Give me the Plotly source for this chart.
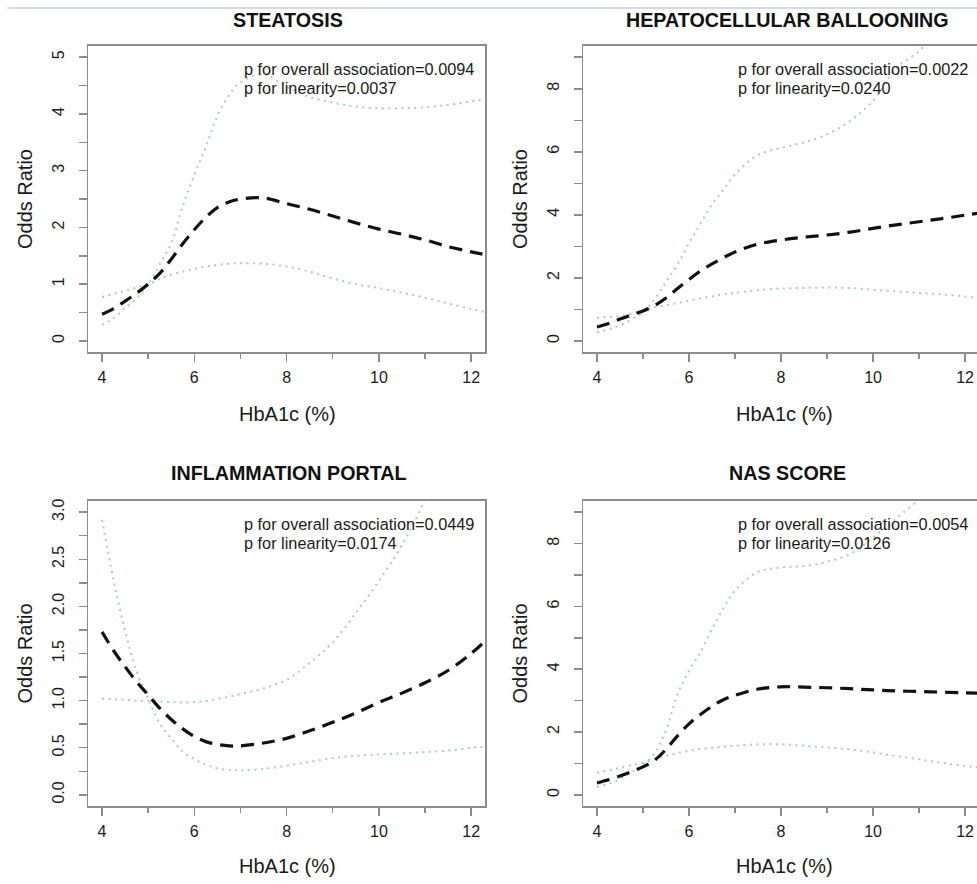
import plotly.graph_objects as go

# ---------------- data ----------------
hba1c = [4.0, 4.25, 4.5, 4.75, 5.0, 5.25, 5.5, 5.75, 6.0, 6.25, 6.5, 6.75,
         7.0, 7.5, 8.0, 8.5, 9.0, 9.5, 10.0, 10.5, 11.0, 11.5, 12.0, 12.3]

steatosis_or = [0.47, 0.57, 0.70, 0.84, 1.00, 1.19, 1.44, 1.71, 1.96, 2.18, 2.35, 2.45,
                2.50, 2.52, 2.42, 2.32, 2.20, 2.08, 1.97, 1.88, 1.78, 1.66, 1.57, 1.52]
steatosis_ci_a = [0.28, 0.40, 0.58, 0.75, 1.00, 1.35, 1.72, 2.38, 2.92, 3.42, 3.97, 4.33,
                  4.56, 4.70, 4.48, 4.30, 4.20, 4.13, 4.10, 4.10, 4.12, 4.16, 4.22, 4.26]
steatosis_ci_b = [0.77, 0.83, 0.88, 0.94, 1.00, 1.09, 1.17, 1.22, 1.27, 1.31, 1.34, 1.36,
                  1.37, 1.36, 1.31, 1.22, 1.10, 1.00, 0.93, 0.85, 0.76, 0.66, 0.56, 0.51]

ballooning_or = [0.44, 0.55, 0.69, 0.82, 0.95, 1.12, 1.36, 1.66, 1.95, 2.22, 2.44, 2.64,
                 2.82, 3.07, 3.20, 3.29, 3.36, 3.45, 3.57, 3.68, 3.78, 3.88, 3.99, 4.05]
ballooning_ci_a = [0.28, 0.36, 0.50, 0.68, 0.90, 1.32, 1.87, 2.42, 3.10, 3.72, 4.32, 4.80,
                   5.28, 5.90, 6.12, 6.30, 6.55, 6.98, 7.62, 8.65, 9.20, 10.00, 10.80, 11.30]
ballooning_ci_b = [0.73, 0.76, 0.79, 0.86, 0.96, 1.06, 1.13, 1.20, 1.28, 1.35, 1.41, 1.48,
                   1.52, 1.61, 1.66, 1.68, 1.69, 1.68, 1.62, 1.57, 1.52, 1.48, 1.41, 1.37]

inflammation_or = [1.73, 1.53, 1.36, 1.20, 1.06, 0.92, 0.80, 0.70, 0.62, 0.565, 0.535, 0.52,
                   0.52, 0.55, 0.60, 0.68, 0.77, 0.87, 0.98, 1.08, 1.19, 1.32, 1.50, 1.63]
inflammation_ci_a = [2.92, 2.28, 1.74, 1.31, 1.02, 0.76, 0.60, 0.46, 0.38, 0.32, 0.28, 0.265,
                     0.26, 0.275, 0.31, 0.35, 0.39, 0.415, 0.43, 0.44, 0.455, 0.47, 0.50, 0.51]
inflammation_ci_b = [1.02, 1.015, 1.01, 1.00, 1.00, 0.99, 0.985, 0.98, 0.985, 0.995, 1.02, 1.04,
                     1.07, 1.13, 1.22, 1.40, 1.62, 1.93, 2.27, 2.65, 3.13, 3.70, 4.30, 4.60]

nas_or = [0.38, 0.48, 0.60, 0.74, 0.89, 1.10, 1.45, 1.88, 2.26, 2.56, 2.82, 3.03,
          3.17, 3.37, 3.44, 3.43, 3.41, 3.38, 3.34, 3.31, 3.29, 3.27, 3.25, 3.24]
nas_ci_a = [0.25, 0.35, 0.50, 0.72, 0.95, 1.33, 2.05, 3.20, 3.95, 4.55, 5.28, 5.95,
            6.51, 7.10, 7.24, 7.29, 7.42, 7.67, 8.19, 8.80, 9.40, 10.10, 10.80, 11.20]
nas_ci_b = [0.70, 0.78, 0.86, 0.95, 1.02, 1.13, 1.24, 1.33, 1.40, 1.46, 1.50, 1.53,
            1.56, 1.61, 1.61, 1.56, 1.51, 1.45, 1.35, 1.24, 1.13, 1.02, 0.92, 0.88]

titles = ["STEATOSIS", "HEPATOCELLULAR BALLOONING", "INFLAMMATION PORTAL", "NAS SCORE"]
p_overall = ["0.0094", "0.0022", "0.0449", "0.0054"]
p_linear = ["0.0037", "0.0240", "0.0174", "0.0126"]

x_ticks = [4, 6, 8, 10, 12]
x_minor = [5, 7, 9, 11]
steatosis_yticks = [0, 0.5, 1, 1.5, 2, 2.5, 3, 3.5, 4, 4.5, 5]
steatosis_ylabels = ["0", "", "1", "", "2", "", "3", "", "4", "", "5"]
or9_yticks = [0, 1, 2, 3, 4, 5, 6, 7, 8, 9]
or9_ylabels = ["0", "", "2", "", "4", "", "6", "", "8", ""]
infl_yticks = [0, 0.25, 0.5, 0.75, 1.0, 1.25, 1.5, 1.75, 2.0, 2.25, 2.5, 2.75, 3.0]
infl_ylabels = ["0.0", "", "0.5", "", "1.0", "", "1.5", "", "2.0", "", "2.5", "", "3.0"]

# ---------------- layout helpers ----------------
W, H = 977, 884
def fx(px):
    return px / W
def fy(py):
    return 1 - py / H

FONT = "Arial, Liberation Sans, sans-serif"
AXIS_GRAY = "#8c8c8c"
CI_GREEN = "#a3d4ae"

panels = [
    dict(orv=steatosis_or, a=steatosis_ci_a, b=steatosis_ci_b, yr=[-0.2, 5.2],
         yt=steatosis_yticks, yl=steatosis_ylabels,
         xd=[fx(88), fx(485)], xr=[3.696, 12.30], yd=[fy(351), fy(44)], left=True, top=True),
    dict(orv=ballooning_or, a=ballooning_ci_a, b=ballooning_ci_b, yr=[-0.36, 9.36],
         yt=or9_yticks, yl=or9_ylabels,
         xd=[fx(583), 1.0], xr=[3.696, 12.26], yd=[fy(351), fy(44)], left=False, top=True),
    dict(orv=inflammation_or, a=inflammation_ci_a, b=inflammation_ci_b, yr=[-0.12, 3.12],
         yt=infl_yticks, yl=infl_ylabels,
         xd=[fx(88), fx(485)], xr=[3.696, 12.30], yd=[fy(806), fy(500)], left=True, top=False),
    dict(orv=nas_or, a=nas_ci_a, b=nas_ci_b, yr=[-0.36, 9.36],
         yt=or9_yticks, yl=or9_ylabels,
         xd=[fx(583), 1.0], xr=[3.696, 12.26], yd=[fy(806), fy(500)], left=False, top=False),
]

fig = go.Figure()
layout = dict(
    width=W, height=H,
    margin=dict(l=0, r=0, t=0, b=0),
    paper_bgcolor="white", plot_bgcolor="white",
    showlegend=False,
    font=dict(family=FONT, color="#1a1a1a", size=16),
)
annotations = []

for i, p in enumerate(panels):
    n = i + 1
    xa = "x" if n == 1 else f"x{n}"
    ya = "y" if n == 1 else f"y{n}"
    for series, style in ((p["a"], "ci"), (p["b"], "ci"), (p["orv"], "or")):
        if style == "ci":
            line = dict(color=CI_GREEN, width=2, dash="2px,4.5px", shape="spline", smoothing=1)
        else:
            line = dict(color="#111111", width=3.2, dash="13px,8px", shape="spline", smoothing=1)
        fig.add_trace(go.Scatter(x=hba1c, y=series, mode="lines", line=line,
                                 xaxis=xa, yaxis=ya, hoverinfo="skip"))

    xkey = "xaxis" if n == 1 else f"xaxis{n}"
    ykey = "yaxis" if n == 1 else f"yaxis{n}"
    layout[xkey] = dict(
        domain=p["xd"], range=p["xr"], anchor=ya,
        tickmode="array", tickvals=x_ticks, ticktext=[str(v) for v in x_ticks],
        ticks="outside", ticklen=8, tickwidth=1.5, tickcolor=AXIS_GRAY,
        ticklabelstandoff=2,
        minor=dict(tickmode="array", tickvals=x_minor, ticks="outside", ticklen=5,
                   tickwidth=1.5, tickcolor=AXIS_GRAY, showgrid=False),
        showline=True, linecolor=AXIS_GRAY, linewidth=1.5, mirror=True,
        showgrid=False, zeroline=False, fixedrange=True,
        tickfont=dict(size=16, family=FONT, color="#1a1a1a"),
    )
    layout[ykey] = dict(
        domain=p["yd"], range=p["yr"], anchor=xa,
        tickmode="array", tickvals=p["yt"], ticktext=p["yl"],
        ticks="outside", ticklen=8, tickwidth=1.5, tickcolor=AXIS_GRAY,
        tickangle=-90, ticklabelstandoff=8,
        showline=True, linecolor=AXIS_GRAY, linewidth=1.5, mirror=p["left"],
        showgrid=False, zeroline=False, fixedrange=True,
        tickfont=dict(size=16, family=FONT, color="#1a1a1a"),
    )

    cx = 288 if p["left"] else 787
    ty = 18 if p["top"] else 472
    annotations.append(dict(text=f"<b>{titles[i]}</b>", x=fx(cx), y=fy(ty), xref="paper", yref="paper",
                            xanchor="center", yanchor="middle", showarrow=False,
                            font=dict(size=19.7, family=FONT, color="#111111")))
    axc = 287 if p["left"] else 784
    axy = 413 if p["top"] else 866
    annotations.append(dict(text="HbA1c (%)", x=fx(axc), y=fy(axy), xref="paper", yref="paper",
                            xanchor="center", yanchor="middle", showarrow=False,
                            font=dict(size=20, family=FONT, color="#1a1a1a")))
    ytx = 25 if p["left"] else 520
    yty = 197.5 if p["top"] else 653
    annotations.append(dict(text="Odds Ratio", x=fx(ytx), y=fy(yty), xref="paper", yref="paper",
                            xanchor="center", yanchor="middle", textangle=-90, showarrow=False,
                            font=dict(size=20, family=FONT, color="#1a1a1a")))
    tx = 242 if p["left"] else 736
    l1 = 67 if p["top"] else 523
    annotations.append(dict(text=f"p for overall association={p_overall[i]}", x=fx(tx), y=fy(l1),
                            xref="paper", yref="paper", xanchor="left", yanchor="middle",
                            showarrow=False, font=dict(size=16.3, family=FONT, color="#1a1a1a")))
    annotations.append(dict(text=f"p for linearity={p_linear[i]}", x=fx(tx), y=fy(l1 + 19.6),
                            xref="paper", yref="paper", xanchor="left", yanchor="middle",
                            showarrow=False, font=dict(size=16.3, family=FONT, color="#1a1a1a")))

layout["annotations"] = annotations
layout["shapes"] = [dict(type="line", xref="paper", yref="paper", x0=fx(7), x1=1.0,
                         y0=fy(6), y1=fy(6), line=dict(color="#d3dbe7", width=2))]
fig.update_layout(**layout)
fig.write_html("out.html",
               config={"displayModeBar": False, "staticPlot": True},
               post_script="document.body.style.margin='0';document.body.style.overflow='hidden';")
